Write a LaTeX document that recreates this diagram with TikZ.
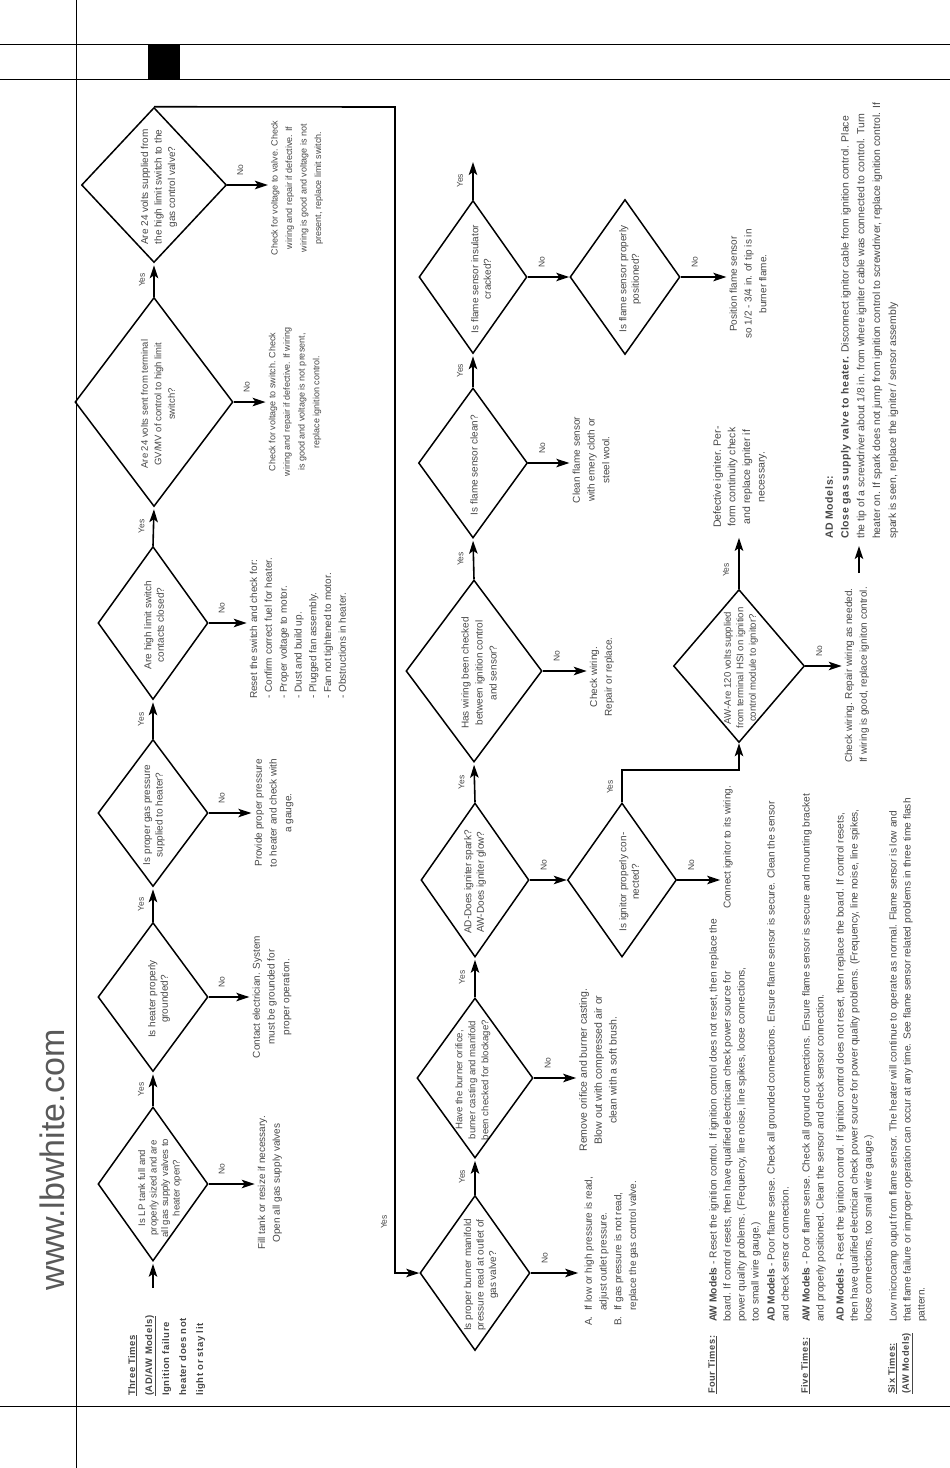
\documentclass[tikz,border=0pt]{standalone}
\usepackage{fontspec}
\setmainfont{Liberation Sans}
\newfontfamily\hdfont[LetterSpace=6]{Liberation Sans}
\usetikzlibrary{shapes.geometric,arrows.meta}
\definecolor{txt}{gray}{0.28}
\begin{document}
\begin{tikzpicture}[x=1pt,y=-1pt,
  dia/.style={draw, shape=diamond, inner sep=0pt, line width=1.5pt},
  qt/.style={rotate=90, align=center, text=txt, font=\fontsize{10}{12.5}\selectfont, inner sep=0pt},
  nt/.style={rotate=90, align=center, text=txt, font=\fontsize{10}{14.8}\selectfont, inner sep=1pt},
  notes/.style={rotate=90, align=left, text=txt, font=\fontsize{10.2}{14}\selectfont, inner sep=0pt, anchor=north west},
  hd/.style={notes, font=\hdfont\bfseries\fontsize{9.3}{14}\selectfont},
  lbl/.style={rotate=90, text=txt, font=\fontsize{8.5}{9}\selectfont, inner sep=0pt},
  arr/.style={line width=1.6pt, -{Stealth[length=13pt,width=8.5pt,inset=3pt]}, shorten >=2pt},
  frame/.style={line width=1pt},
]
\useasboundingbox (0,0) rectangle (950,1468);
% page frame
\draw[frame] (76,0) -- (76,1468);
\draw[frame] (0,44) -- (950,44);
\draw[frame] (0,79) -- (950,79);
\draw[frame] (0,1406) -- (950,1406);
\fill (148,44) rectangle (180,79);
\node[rotate=90, text=black!65, font=\fontsize{34}{36}\selectfont] (web) at (52,1160) {www.lbwhite.com};

% header
\node[rotate=90, anchor=north west, align=left, text=txt, inner sep=0pt,
  font=\hdfont\bfseries\fontsize{9.5}{17}\selectfont] (hdr) at (128,1396)
  {\underline{Three Times}\\\underline{(AD/AW Models)}\\Ignition failure\\heater does not\\light or stay lit};
\coordinate (start) at (153,1288);

% row 1 diamonds
\node[dia, minimum width=110pt, minimum height=154pt] (d1) at (153,1184) {};
\node[qt, font=\fontsize{9.6}{11.5}\selectfont] at ([shift={(7,4)}]d1.center) {Is LP tank full and\\properly sized and are\\all gas supply valves to\\heater open?};
\node[dia, minimum width=110pt, minimum height=149pt] (d2) at (153,997) {};
\node[qt] at ([shift={(6,2)}]d2.center) {Is heater properly\\grounded?};
\node[dia, minimum width=110pt, minimum height=147pt] (d3) at (153,813) {};
\node[qt] at ([shift={(1,2)}]d3.center) {Is proper gas pressure\\supplied to heater?};
\node[dia, minimum width=110pt, minimum height=153pt] (d4) at (153,623) {};
\node[qt] at ([shift={(1,2)}]d4.center) {Are high limit switch\\contacts closed?};
\node[dia, minimum width=158pt, minimum height=209pt] (d5) at (154,402) {};
\node[qt, font=\fontsize{9.5}{13.5}\selectfont] at ([shift={(4,2)}]d5.center) {Are 24 volts sent from terminal\\GV/MV of control to high limit\\switch?};
\node[dia, minimum width=145pt, minimum height=155pt] (d6) at (154,185) {};
\node[qt, font=\fontsize{10}{13.5}\selectfont] at ([shift={(5,2)}]d6.center) {Are 24 volts supplied from\\the high limit switch to the\\gas control valve?};

% row 1 answers
\node[nt] (n1) at (270,1183) {Fill tank or resize if necessary.\\Open all gas supply valves};
\node[nt] (n2) at (272,997) {Contact electrician. System\\must be grounded for\\proper operation.};
\node[nt] (n3) at (274,813) {Provide proper pressure\\to heater and check with\\a gauge.};
\node[nt, align=left, anchor=west] (n4) at (298,700) {Reset the switch and check for:\\- Confirm correct fuel for heater.\\- Proper voltage to motor.\\- Dust and build up.\\- Plugged fan assembly.\\- Fan not tightened to motor.\\- Obstructions in heater.};
\node[nt, font=\fontsize{9}{14.7}\selectfont] (n5) at (295,402) {Check for voltage to switch. Check\\wiring and repair if defective. If wiring\\is good and voltage is not present,\\replace ignition control.};
\node[nt, font=\fontsize{9}{14.5}\selectfont] (n6) at (297,188) {Check for voltage to valve. Check\\wiring and repair if defective. If\\wiring is good and voltage is not\\present, replace limit switch.};

\draw[arr] (start) -- (d1.south);
\draw[arr] (d1.north) -- (d2.south);
\draw[arr] (d2.north) -- (d3.south);
\draw[arr] (d3.north) -- (d4.south);
\draw[arr] (d4.north) -- (d5.south);
\draw[arr] (d5.north) -- (d6.south);
\foreach \a/\b in {d1/d2,d2/d3,d3/d4,d4/d5,d5/d6}
  \path (\a.north) -- node[xshift=-12pt, lbl] {Yes} (\b.south);
\foreach \d/\n in {d1/n1,d2/n2,d3/n3,d4/n4,d5/n5,d6/n6}{
  \draw[arr] (\d.east) -- (\d.east -| \n.north);
  \path (\d.east) ++(13,-15) node[lbl] {No};
}

% row 2 diamonds
\node[dia, minimum width=110pt, minimum height=155pt] (d7) at (475,1273) {};
\node[qt] at ([shift={(6,2)}]d7.center) {Is proper burner manifold\\pressure read at outlet of\\gas valve?};
\node[dia, minimum width=116pt, minimum height=160pt] (d8) at (475,1078) {};
\node[qt, font=\fontsize{9.6}{13}\selectfont] at ([shift={(-2,2)}]d8.center) {Have the burner orifice,\\burner casting and manifold\\been checked for blockage?};
\node[dia, minimum width=108pt, minimum height=154pt] (d9) at (475,880) {};
\node[qt] at ([shift={(0,2)}]d9.center) {AD-Does igniter spark?\\AW-Does igniter glow?};
\node[dia, minimum width=109pt, minimum height=154pt] (d10) at (622,880) {};
\node[qt] at ([shift={(7,2)}]d10.center) {Is ignitor properly con-\\nected?};
\node[dia, minimum width=131pt, minimum height=153pt] (d11) at (739,666) {};
\node[qt, font=\fontsize{9.6}{12.5}\selectfont] at ([shift={(2,2)}]d11.center) {AW-Are 120 volts supplied\\from terminal HSI on ignition\\control module to ignitor?};
\node[dia, minimum width=136pt, minimum height=182pt] (d12) at (474,671) {};
\node[qt, font=\fontsize{10}{14}\selectfont] at ([shift={(5,2)}]d12.center) {Has wiring been checked\\between ignition control\\and sensor?};
\node[dia, minimum width=109pt, minimum height=150pt] (d13) at (473,463) {};
\node[qt] at ([shift={(1,2)}]d13.center) {Is flame sensor clean?};
\node[dia, minimum width=108pt, minimum height=153pt] (d14) at (473,277) {};
\node[qt] at ([shift={(8,2)}]d14.center) {Is flame sensor insulator\\cracked?};
\node[dia, minimum width=110pt, minimum height=155pt] (d15) at (625,277) {};
\node[qt] at ([shift={(5,2)}]d15.center) {Is flame sensor properly\\positioned?};

% loop to row 2
\coordinate (c1) at (395,107);
\draw[arr, shorten >=0pt] (d6.north) -- (c1) |- (d7.west);
\node[lbl] at (384,1222) {Yes};

% row 2 answers
\node[nt, align=left, anchor=west] (m7) at (611,1327) {\begin{tabular}{@{}l@{\ \ }l@{}}A.&If low or high pressure is read,\\&adjust outlet pressure.\\B.&If gas pressure is not read,\\&replace the gas control valve.\end{tabular}};
\node[nt, font=\fontsize{10.5}{14.8}\selectfont] (m8) at (598,1070) {Remove orifice and burner casting.\\Blow out with compressed air or\\clean with a soft brush.};
\node[nt, anchor=west] (m10) at (728,910) {Connect ignitor to its wiring.};
\node[nt, align=left, anchor=west] (m11) at (857,764) {Check wiring. Repair wiring as needed.\\If wiring is good, replace igniton control.};
\node[nt, font=\fontsize{10.5}{14.6}\selectfont] (m11y) at (740,477) {Defective igniter. Per-\\form continuity check\\and replace igniter if\\necessary.};
\node[nt] (m12) at (602,677) {Check wiring.\\Repair or replace.};
\node[nt] (m13) at (591,460) {Clean flame sensor\\with emery cloth or\\steel wool.};
\node[nt] (m15) at (748,284) {Position flame sensor\\so 1/2 - 3/4 in. of tip is in\\burner flame.};

% row 2 connectors
\draw[arr] (d7.north) -- (d8.south);
\draw[arr] (d8.north) -- (d9.south);
\draw[arr] (d9.north) -- (d12.south);
\draw[arr] (d12.north) -- (d13.south);
\draw[arr] (d13.north) -- (d14.south);
\coordinate (top14) at (473,162);
\draw[arr, shorten >=0pt] (d14.north) -- (top14);
\foreach \a/\b in {d7/d8.south,d8/d9.south,d9/d12.south,d12/d13.south,d13/d14.south,d14/top14}
  \path (\a.north) -- node[xshift=-13pt, lbl] {Yes} (\b);
\draw[arr, shorten >=0pt] (d9.east) -- (d10.west);
\draw[arr, shorten >=0pt] (d14.east) -- (d15.west);
\coordinate (c2) at (739,770);
\draw[arr, shorten >=0pt] (d10.north) |- (c2) -- (d11.south);
\node[lbl] at (610,787) {Yes};
\draw[arr, shorten >=9pt] (d11.north) -- (d11.north |- m11y.west);
\node[lbl] at (726,570) {Yes};
\foreach \d/\n in {d7/m7,d8/m8,d12/m12,d13/m13,d10/m10,d15/m15,d11/m11}
  \draw[arr] (\d.east) -- (\d.east -| \n.north);
\foreach \d in {d7,d8,d9,d12,d13,d14,d10,d15,d11}
  \path (\d.east) ++(14,-15) node[lbl] {No};

% AD models block
\coordinate (adA) at (859,573);
\coordinate (adB) at (859,546);
\draw[arr, shorten >=0pt] (adA) -- (adB);
\node[notes, font=\fontsize{10.4}{15.8}\selectfont] (adm) at (825,539)
  {{\hdfont\bfseries\fontsize{10.5}{12}\selectfont AD Models:}\\
   {\hdfont\bfseries\fontsize{10.5}{12}\selectfont Close gas supply valve to heater.} Disconnect ignitor cable from ignition control. Place\\
   the tip of a screwdriver about 1/8 in. from where igniter cable was connected to control. Turn\\
   heater on. If spark does not jump from ignition control to screwdriver, replace ignition control. If\\
   spark is seen, replace the igniter / sensor assembly};

% notes
\node[hd] (h4) at (708,1394) {\underline{Four Times:}};
\node[notes] (b4a) at (709,1322) {\textbf{AW Models} - Reset the ignition control. If ignition control does not reset, then replace the\\board. If control resets, then have qualified electrician check power source for\\power quality problems. (Frequency, line noise, line spikes, loose connections,\\too small wire gauge.)};
\node[notes] (b4b) at (767,1322) {\textbf{AD Models} - Poor flame sense. Check all grounded connections. Ensure flame sensor is secure. Clean the sensor\\and check sensor connection.};
\node[hd] (h5) at (801,1394) {\underline{Five Times:}};
\node[notes] (b5a) at (802,1322) {\textbf{AW Models} - Poor flame sense. Check all ground connections. Ensure flame sensor is secure and mounting bracket\\and properly positioned. Clean the sensor and check sensor connection.};
\node[notes] (b5b) at (836,1322) {\textbf{AD Models} - Reset the ignition control. If ignition control does not reset, then replace the board. If control resets,\\then have qualified electrician check power source for power quality problems. (Frequency, line noise, line spikes,\\loose connections, too small wire gauge.)};
\node[hd] (h6) at (888,1394) {\underline{Six Times:}\\\underline{(AW Models)}};
\node[notes] (b6) at (889,1322) {Low microcamp ouput from flame sensor. The heater will continue to operate as normal. Flame sensor is low and\\that flame failure or improper operation can occur at any time. See flame sensor related problems in three time flash\\pattern.};
\end{tikzpicture}
\end{document}
